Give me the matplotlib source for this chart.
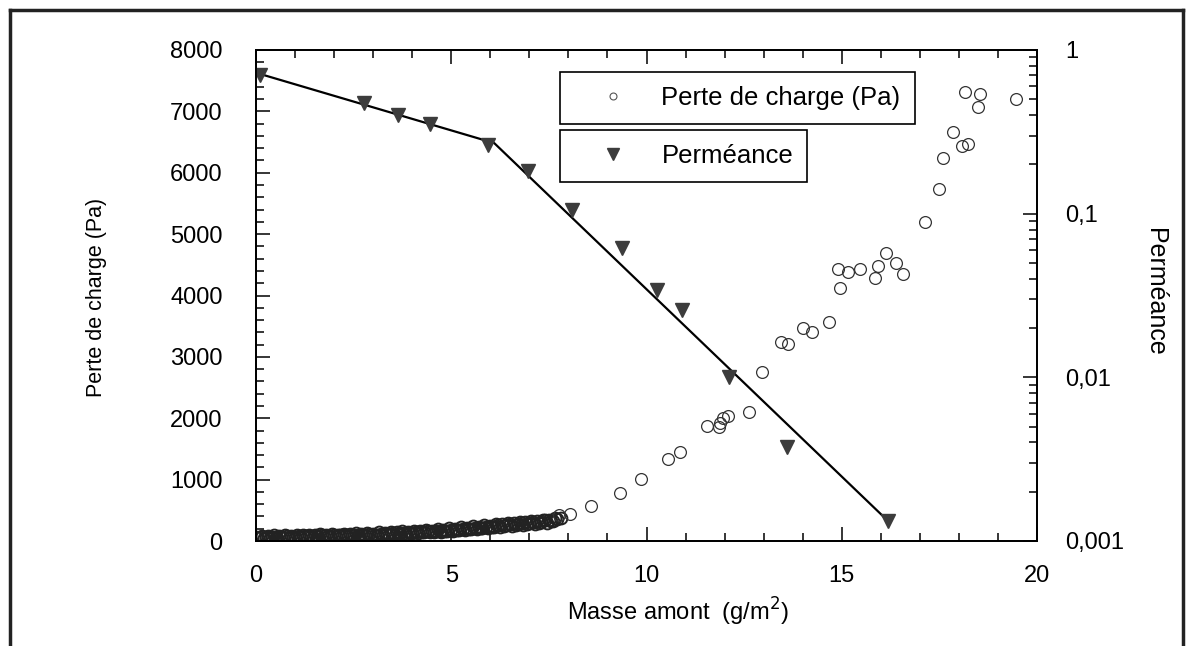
import numpy as np
import matplotlib.pyplot as plt
from matplotlib.ticker import MultipleLocator, FixedLocator, FixedFormatter, NullFormatter
from matplotlib.lines import Line2D

plt.rcParams['font.family'] = ['Liberation Sans', 'DejaVu Sans']

# perte de charge : zone dense (debut du colmatage), deux series de mesures
dense_x = [0.0, 0.1, 0.2, 0.3, 0.4, 0.5, 0.6, 0.7, 0.8, 0.9,
           1.0, 1.1, 1.2, 1.3, 1.4, 1.5, 1.6, 1.7, 1.8, 1.9,
           2.0, 2.1, 2.2, 2.3, 2.4, 2.5, 2.6, 2.7, 2.8, 2.9,
           3.0, 3.1, 3.2, 3.3, 3.4, 3.5, 3.6, 3.7, 3.8, 3.9,
           4.0, 4.1, 4.2, 4.3, 4.4, 4.5, 4.6, 4.7, 4.8, 4.9,
           5.0, 5.1, 5.2, 5.3, 5.4, 5.5, 5.6, 5.7, 5.8, 5.9,
           6.0, 6.1, 6.2, 6.3, 6.4, 6.5, 6.6, 6.7, 6.8, 6.9,
           7.0, 7.1, 7.2, 7.3, 7.4, 7.5, 7.6, 7.7, 7.8]
dense_y = [60, 70, 55, 75, 60, 70, 80, 65, 75, 85,
           70, 80, 90, 75, 85, 95, 80, 90, 100, 85,
           95, 105, 90, 100, 110, 95, 105, 115, 100, 110,
           120, 105, 115, 130, 115, 125, 140, 125, 135, 150,
           135, 145, 160, 145, 155, 170, 155, 170, 185, 170,
           180, 195, 185, 200, 215, 200, 215, 230, 215, 235,
           250, 235, 255, 270, 255, 275, 290, 270, 295, 310,
           290, 315, 330, 310, 335, 350, 330, 360, 375]
dense_x2 = [0.05, 0.15, 0.25, 0.35, 0.45, 0.55, 0.65, 0.75, 0.85, 0.95,
            1.05, 1.15, 1.25, 1.35, 1.45, 1.55, 1.65, 1.75, 1.85, 1.95,
            2.05, 2.15, 2.25, 2.35, 2.45, 2.55, 2.65, 2.75, 2.85, 2.95,
            3.05, 3.15, 3.25, 3.35, 3.45, 3.55, 3.65, 3.75, 3.85, 3.95,
            4.05, 4.15, 4.25, 4.35, 4.45, 4.55, 4.65, 4.75, 4.85, 4.95,
            5.05, 5.15, 5.25, 5.35, 5.45, 5.55, 5.65, 5.75, 5.85, 5.95,
            6.05, 6.15, 6.25, 6.35, 6.45, 6.55, 6.65, 6.75, 6.85, 6.95,
            7.05, 7.15, 7.25, 7.35, 7.45, 7.55, 7.65]
dense_y2 = [45, 85, 70, 50, 90, 55, 65, 95, 55, 70,
            95, 65, 75, 105, 70, 80, 110, 75, 85, 115,
            80, 90, 120, 85, 95, 125, 90, 100, 130, 95,
            105, 140, 100, 110, 150, 105, 120, 160, 115, 130,
            170, 125, 140, 180, 140, 150, 195, 150, 165, 205,
            165, 175, 220, 180, 195, 240, 195, 210, 255, 210,
            230, 275, 225, 245, 290, 240, 260, 310, 260, 280,
            330, 280, 300, 350, 300, 320, 370]

# perte de charge : points isoles
masse = [7.75, 8.05, 8.59, 9.31, 9.85, 10.54, 10.85, 11.56, 11.85, 11.87,
         11.95, 12.08, 12.62, 12.97, 13.44, 13.62, 14.0, 14.23, 14.67, 14.95,
         14.9, 15.15, 15.46, 15.85, 15.92, 16.13, 16.38, 16.56, 17.13, 17.49,
         17.59, 17.85, 18.08, 18.23, 18.15, 18.54, 18.49, 19.46]
perte = [420, 440, 570, 782, 1010, 1336, 1450, 1873, 1857, 1922,
         2004, 2036, 2101, 2753, 3242, 3209, 3470, 3405, 3567, 4121,
         4430, 4380, 4430, 4284, 4480, 4690, 4530, 4350, 5197, 5734,
         6240, 6663, 6435, 6467, 7314, 7281, 7070, 7200]

# permeance
perm_x = [0.1, 2.77, 3.64, 4.46, 5.95, 6.97, 8.10, 9.36, 10.26, 10.92, 12.1, 13.59, 16.18]
perm_y = [0.70, 0.475, 0.40, 0.353, 0.263, 0.182, 0.105, 0.062, 0.034, 0.0258, 0.010, 0.00376, 0.00133]

# droite d'ajustement en deux morceaux
fit_x = [0.05, 6.1, 16.15]
fit_y = [0.72, 0.27, 0.00135]

W, H = 1188, 646
fig = plt.figure(figsize=(W / 100, H / 100), dpi=100)
ax = fig.add_axes([256 / W, 1 - 541 / H, (1037 - 256) / W, (541 - 50) / H])
ax2 = ax.twinx()

circ = dict(ls='none', marker='o', ms=8.5, mfc='none', mec='#333333', mew=0.9)
ax.plot(dense_x, dense_y, ls='none', marker='o', ms=8.5, mfc='none', mec='#222222', mew=1.4)
ax.plot(dense_x2, dense_y2, ls='none', marker='o', ms=8.5, mfc='none', mec='#222222', mew=1.4)
ax.plot(masse, perte, **circ)

ax2.plot(fit_x, fit_y, color='black', lw=1.6)
ax2.plot(perm_x, perm_y, ls='none', marker='v', ms=9.5, color='#3c3c3c')

ax.set_xlim(0, 20)
ax.set_ylim(0, 8000)
ax2.set_yscale('log')
ax2.set_ylim(0.001, 1)

ax.xaxis.set_major_locator(MultipleLocator(5))
ax.xaxis.set_minor_locator(MultipleLocator(1))
ax.yaxis.set_major_locator(MultipleLocator(1000))
ax.yaxis.set_minor_locator(MultipleLocator(200))
ax.tick_params(which='both', direction='in', top=True, labelsize=17, width=1.1)
ax.tick_params(axis='y', which='major', length=10, pad=24)
ax.tick_params(axis='y', which='minor', length=6)
ax.tick_params(axis='x', which='major', length=10, pad=17)
ax.tick_params(axis='x', which='minor', length=6)

ax2.yaxis.set_major_locator(FixedLocator([0.001, 0.01, 0.1, 1]))
ax2.yaxis.set_major_formatter(FixedFormatter(['0,001', '0,01', '0,1', '1']))
ax2.yaxis.set_minor_formatter(NullFormatter())
ax2.tick_params(which='both', direction='in', labelsize=17, width=1.1)
ax2.tick_params(which='major', length=10, pad=20)
ax2.tick_params(which='minor', length=6)

for a in (ax, ax2):
    for s in a.spines.values():
        s.set_linewidth(1.3)

fig.text(678 / W, 1 - 612 / H, 'Masse amont  (g/m$^2$)', ha='center', va='center', fontsize=17)
fig.text(96 / W, 1 - 297 / H, 'Perte de charge (Pa)', ha='center', va='center',
         rotation=90, fontsize=15.5)
fig.text(1155 / W, 1 - 292 / H, 'Perméance', ha='center', va='center',
         rotation=-90, fontsize=18)

# deux cadres de legende separes
h1 = Line2D([], [], ls='none', marker='o', ms=5, mfc='none', mec='#555555', mew=0.8)
h2 = Line2D([], [], ls='none', marker='v', ms=8, color='#3c3c3c')
leg_kw = dict(loc='upper left', fontsize=18.5, fancybox=False, framealpha=1,
              edgecolor='black', borderpad=0.55, handlelength=3.0,
              handletextpad=0.4, borderaxespad=0)
leg1 = fig.legend([h1], ['Perte de charge (Pa)'],
                  bbox_to_anchor=(560 / W, 1 - 72 / H), **leg_kw)
leg2 = fig.legend([h2], ['Perméance'],
                  bbox_to_anchor=(560 / W, 1 - 130 / H), **leg_kw)
for lg in (leg1, leg2):
    lg.get_frame().set_linewidth(1.2)

# cadre exterieur de la figure
frame_kw = dict(color='#222222', lw=2.5, transform=fig.transFigure)
fig.add_artist(Line2D([10 / W, 10 / W], [0, 1 - 10 / H], **frame_kw))
fig.add_artist(Line2D([10 / W, 1183 / W], [1 - 10 / H, 1 - 10 / H], **frame_kw))
fig.add_artist(Line2D([1183 / W, 1183 / W], [0, 1 - 10 / H], **frame_kw))

fig.savefig('out.png', dpi=100)
